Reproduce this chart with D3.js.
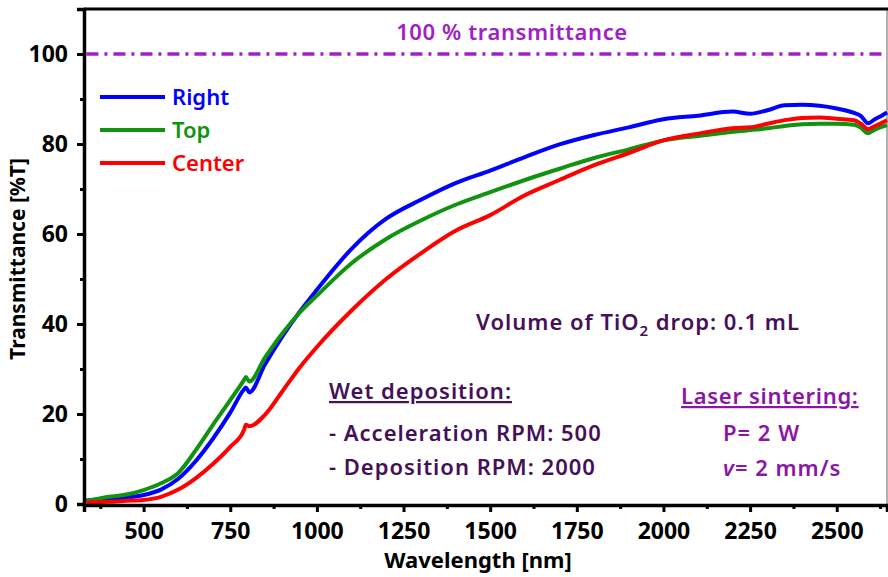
<!DOCTYPE html>
<html>
<head>
<meta charset="utf-8">
<script src="https://cdn.jsdelivr.net/npm/d3@7"></script>
<style>
  body { margin: 0; background: #fff; }
  svg text { font-family: "Noto Sans", "DejaVu Sans", sans-serif; }
</style>
</head>
<body>
<div id="chart"></div>
<script>
const width = 888;
const height = 577;

// wavelength samples [nm]
const wavelength = [335, 350, 400, 450, 500, 550, 600, 650, 700, 750, 790, 795, 805, 850, 900, 950, 1000,
  1100, 1200, 1300, 1400, 1500, 1600, 1700, 1800, 1900, 2000, 2100, 2200, 2250, 2300, 2350, 2400,
  2450, 2500, 2550, 2570, 2590, 2610, 2630, 2645];

const rightT = [0.8, 0.9, 1.1, 1.4, 2.0, 3.2, 5.6, 9.5, 14.5, 20.3, 25.5, 25.9, 24.8, 31.0, 37.2, 42.7, 47.6,
  56.7, 63.4, 67.6, 71.3, 74.1, 77.1, 79.9, 82.0, 83.7, 85.5, 86.3, 87.2, 86.7, 87.5, 88.6, 88.7,
  88.5, 87.9, 86.9, 86.2, 84.6, 85.5, 86.3, 87.0];

const topT = [0.7, 0.9, 1.6, 2.1, 3.1, 4.6, 6.9, 11.9, 17.6, 23.1, 27.6, 28.2, 27.2, 32.5, 37.9, 42.5, 46.3,
  53.5, 58.9, 63.0, 66.5, 69.3, 72.0, 74.5, 76.9, 78.8, 80.8, 81.8, 82.7, 83.1, 83.5, 84.0, 84.4,
  84.5, 84.5, 84.3, 83.6, 82.4, 83.2, 83.8, 84.2];

const centerT = [0.3, 0.4, 0.5, 0.7, 0.9, 1.6, 3.2, 5.7, 8.9, 12.7, 16.5, 17.6, 17.3, 19.8, 25.0, 30.3, 34.9,
  43.0, 50.0, 55.7, 60.7, 64.2, 68.6, 72.0, 75.3, 78.0, 80.8, 82.3, 83.5, 83.7, 84.5, 85.3, 85.8,
  85.9, 85.6, 85.3, 84.5, 83.3, 84.0, 84.7, 85.3];

const seriesNames = ['Right', 'Top', 'Center'];
const seriesColors = ['#0000ff', '#109410', '#ff0000'];
const seriesValues = [rightT, topT, centerT];

const xTicks = [500, 750, 1000, 1250, 1500, 1750, 2000, 2250, 2500];
const xMinor = [375, 625, 875, 1125, 1375, 1625, 1875, 2125, 2375, 2625];
const yTicks = [0, 20, 40, 60, 80, 100];
const yMinor = [10, 30, 50, 70, 90];
const fullLine = [335, 2645];

const svg = d3.select('#chart').append('svg')
  .attr('width', width)
  .attr('height', height);

const x = d3.scaleLinear().domain([328, 2645]).range([84, 887]);
const y = d3.scaleLinear().domain([0, 110]).range([504, 9]);

// frame: thin right border, thick top border
svg.append('line').attr('x1', 887).attr('x2', 887).attr('y1', 9).attr('y2', 504)
  .attr('stroke', '#999').attr('stroke-width', 1.5);
svg.append('line').attr('x1', 84).attr('x2', 888).attr('y1', 9).attr('y2', 9)
  .attr('stroke', '#000').attr('stroke-width', 3);

// 100 % line
svg.append('line')
  .attr('x1', x(fullLine[0])).attr('x2', x(fullLine[1]))
  .attr('y1', y(100)).attr('y2', y(100))
  .attr('stroke', '#a020c8').attr('stroke-width', 3.5)
  .attr('stroke-dasharray', '12,6,3,6');
svg.append('text')
  .attr('x', 512).attr('y', 40)
  .attr('text-anchor', 'middle')
  .attr('font-size', 22)
  .attr('font-weight', 600)
  .attr('letter-spacing', 0.6)
  .attr('fill', '#a020c8')
  .text('100 % transmittance');

// curves
const line = d3.line()
  .x((d, i) => x(wavelength[i]))
  .y(d => y(d))
  .curve(d3.curveMonotoneX);

seriesValues.forEach((vals, k) => {
  svg.append('path')
    .datum(vals)
    .attr('d', line)
    .attr('fill', 'none')
    .attr('stroke', seriesColors[k])
    .attr('stroke-width', 4)
    .attr('stroke-linejoin', 'round');
});

// axes
svg.append('g').attr('transform', 'translate(0,505)')
  .call(d3.axisBottom(x).tickValues(xTicks).tickSize(7).tickPadding(11).tickFormat(d3.format('d')));
svg.append('g').attr('transform', 'translate(0,505)')
  .call(d3.axisBottom(x).tickValues(xMinor).tickSize(4).tickFormat(''))
  .call(g => g.select('.domain').remove());
svg.append('g').attr('transform', 'translate(84,0)')
  .call(d3.axisLeft(y).tickValues(yTicks).tickSize(7).tickPadding(9).tickFormat(d3.format('d')));
svg.append('g').attr('transform', 'translate(84,0)')
  .call(d3.axisLeft(y).tickValues(yMinor).tickSize(4).tickFormat(''))
  .call(g => g.select('.domain').remove());

svg.selectAll('.domain').attr('stroke', '#000').attr('stroke-width', 3.5);
svg.selectAll('.tick line').attr('stroke', '#000').attr('stroke-width', 3);
svg.selectAll('.tick text')
  .attr('fill', '#000')
  .attr('font-size', 23)
  .attr('font-weight', 'bold')
  .style('font-family', '"Noto Sans", sans-serif');

// axis titles
svg.append('text')
  .attr('x', 478).attr('y', 568)
  .attr('text-anchor', 'middle')
  .attr('font-size', 22)
  .attr('font-weight', 'bold')
  .text('Wavelength [nm]');
svg.append('text')
  .attr('transform', 'translate(25,259) rotate(-90)')
  .attr('text-anchor', 'middle')
  .attr('font-size', 21)
  .attr('font-weight', 'bold')
  .text('Transmittance [%T]');

// legend
const legend = svg.append('g');
seriesNames.forEach((name, k) => {
  const ly = 97 + k * 33;
  legend.append('line')
    .attr('x1', 100).attr('x2', 165).attr('y1', ly).attr('y2', ly)
    .attr('stroke', seriesColors[k]).attr('stroke-width', 4);
  legend.append('text')
    .attr('x', 172).attr('y', ly + 8)
    .attr('font-size', 22)
    .attr('font-weight', 600)
    .attr('fill', seriesColors[k])
    .text(name);
});

// annotations
const dark = '#45105a';
const annSize = 22;
const annWeight = 600;
const annSpacing = 1.0;
function note(xp, yp, txt, color) {
  return svg.append('text')
    .attr('x', xp).attr('y', yp)
    .attr('font-size', annSize)
    .attr('font-weight', annWeight)
    .attr('letter-spacing', annSpacing)
    .attr('fill', color)
    .text(txt);
}

const vol = note(638, 330, null, dark).attr('text-anchor', 'middle');
vol.append('tspan').text('Volume of TiO');
vol.append('tspan').attr('font-size', 15).attr('dy', 6).text('2');
vol.append('tspan').attr('dy', -6).text(' drop: 0.1 mL');

note(329, 399, 'Wet deposition:', dark).attr('text-decoration', 'underline');
note(329, 441, '- Acceleration RPM: 500', dark);
note(329, 475, '- Deposition RPM: 2000', dark);

const purple = '#8a16a8';
note(681, 404, 'Laser sintering:', purple).attr('text-decoration', 'underline').attr('letter-spacing', 0.7);
note(723, 441, 'P= 2 W', purple);
const vt = note(723, 476, null, purple);
vt.append('tspan').attr('font-style', 'italic').text('v');
vt.append('tspan').text('= 2 mm/s');
</script>
</body>
</html>
